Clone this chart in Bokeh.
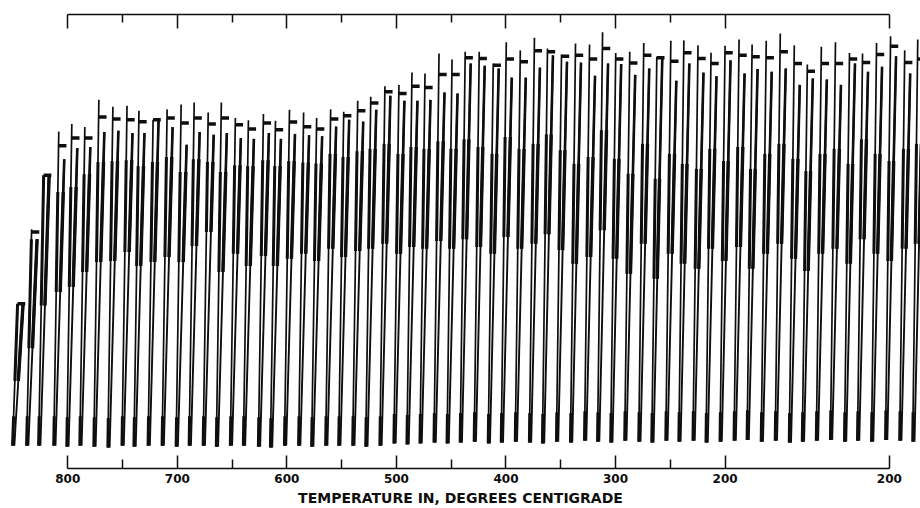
import numpy as np
from bokeh.plotting import figure
from bokeh.models import Range1d, LinearAxis, FixedTicker, ColumnDataSource
from bokeh.embed import file_html
from bokeh.resources import INLINE

# Position of each cycle's rising stroke, on the chart's temperature scale
cycle_temp = [845.8, 833.0, 822.0, 808.2, 796.3, 784.4, 771.6, 758.8, 745.9, 735.0,
              722.1, 709.3, 696.5, 684.6, 671.8, 659.8, 647.0, 635.1, 621.4, 610.4,
              597.6, 584.7, 572.8, 560.0, 548.1, 535.3, 523.4, 510.5, 497.7, 485.8,
              473.9, 461.1, 449.2, 437.2, 424.4, 411.6, 399.7, 386.9, 374.0, 362.1,
              349.3, 336.5, 323.7, 311.8, 299.8, 287.0, 274.2, 262.3, 249.5, 237.6,
              224.7, 212.8, 200.0, 187.2, 175.3, 162.4, 149.6, 136.8, 124.9, 112.1,
              99.2, 86.4, 74.5, 61.7, 48.9, 36.0, 24.1]
# Deflection (0 = base line, 100 = top line) of the peak of each rising stroke
peak = [36.3, 52.7, 64.6, 74.2, 75.9, 75.2, 81.2, 79.7, 79.9, 78.8,
        76.8, 79.1, 80.2, 80.6, 78.4, 80.6, 77.2, 76.7, 78.1, 76.6,
        79.0, 78.4, 77.2, 79.1, 78.6, 81.0, 81.9, 84.2, 84.5, 87.2,
        87.0, 91.4, 90.1, 91.8, 91.8, 89.2, 93.9, 92.1, 94.9, 92.5,
        91.2, 93.6, 93.4, 96.1, 91.5, 91.8, 93.7, 90.7, 94.2, 94.3,
        93.2, 91.6, 93.1, 94.5, 93.4, 94.2, 95.8, 93.2, 89.0, 92.9,
        93.9, 91.5, 91.4, 93.7, 95.2, 92.1, 94.5]
# Deflection of the flag mark
flag = [36.3, 52.1, 64.6, 71.1, 72.8, 72.8, 77.4, 77.0, 76.8, 76.4,
        76.8, 77.2, 76.1, 77.2, 75.9, 77.2, 75.7, 74.8, 76.1, 74.6,
        76.3, 75.3, 74.8, 77.0, 77.7, 78.8, 80.5, 83.0, 82.6, 84.2,
        83.9, 86.8, 86.8, 90.5, 90.3, 88.8, 90.2, 89.6, 92.0, 91.8,
        90.8, 91.0, 90.2, 92.5, 90.2, 89.3, 91.0, 90.5, 89.7, 91.6,
        90.3, 89.2, 91.6, 91.0, 90.7, 90.5, 91.8, 89.2, 87.5, 89.2,
        89.2, 90.2, 89.4, 91.2, 93.0, 89.4, 90.2]
# Deflection at the top of the falling stroke
fall_top = [36.3, 50.5, 64.6, 68.1, 70.6, 70.8, 74.1, 74.4, 73.9, 73.9,
            76.7, 75.2, 71.3, 74.1, 73.5, 73.9, 72.8, 72.6, 73.9, 72.6,
            73.7, 73.4, 73.2, 75.3, 76.8, 76.4, 79.0, 82.1, 81.0, 81.0,
            81.2, 82.8, 82.6, 89.2, 88.7, 88.1, 86.1, 86.1, 88.3, 91.0,
            89.6, 89.4, 86.5, 89.2, 89.1, 86.7, 88.1, 90.5, 85.4, 89.2,
            87.2, 86.4, 89.9, 87.0, 88.0, 87.4, 88.1, 84.5, 85.9, 85.7,
            84.5, 89.2, 87.4, 88.5, 90.8, 87.0, 89.2]
# Lower end of the dense (overlapping) part of each stroke pair
band_low = [19.3, 26.5, 35.9, 38.9, 40.0, 43.3, 45.5, 45.7, 47.7, 44.6,
            45.5, 46.6, 45.5, 49.0, 52.1, 43.3, 47.3, 44.6, 46.8, 44.6,
            46.2, 47.3, 45.7, 48.4, 46.6, 47.9, 48.4, 49.5, 47.3, 48.8,
            48.4, 50.1, 48.4, 50.5, 48.8, 47.3, 51.0, 48.4, 49.5, 51.6,
            48.1, 45.1, 46.6, 52.5, 46.2, 42.9, 49.5, 41.8, 47.3, 45.1,
            44.0, 48.4, 45.7, 48.8, 44.0, 47.3, 49.5, 46.2, 43.5, 47.3,
            48.4, 45.1, 50.5, 47.3, 45.7, 48.4, 49.5]
# Deflection at the bottom tip of each cycle
trough = [5.0, 5.0, 5.0, 5.0, 4.8, 5.0, 4.8, 4.6, 5.0, 4.8,
          5.0, 5.0, 4.8, 5.0, 5.0, 4.8, 5.0, 5.0, 4.8, 4.6,
          5.0, 5.0, 4.8, 5.0, 5.0, 5.0, 4.8, 5.0, 5.5, 5.3,
          5.5, 5.7, 5.5, 5.7, 5.9, 5.5, 5.7, 5.9, 5.7, 5.5,
          5.9, 5.7, 6.1, 5.9, 5.7, 6.1, 5.9, 5.7, 6.1, 5.9,
          6.1, 5.7, 5.9, 6.1, 6.3, 5.9, 6.1, 5.7, 5.9, 6.1,
          6.3, 5.9, 6.1, 5.9, 6.3, 6.1, 5.9]

major_ticks = [800, 700, 600, 500, 400, 300, 200, 50]
minor_ticks = [750, 650, 550, 450, 350, 250]
tick_labels = {800: "800", 700: "700", 600: "600", 500: "500",
               400: "400", 300: "300", 200: "200", 50: "200"}
axis_title = "TEMPERATURE IN, DEGREES CENTIGRADE"

INK = "#0e0e0e"
FONT = "DejaVu Sans"

T = np.array(cycle_temp)
pk = np.array(peak)
fl = np.array(flag)
ft = np.array(fall_top)
bl = np.array(band_low)
tr = np.array(trough)

# horizontal offsets (degrees on the scale) of the stroke geometry
tip_x = T + 4.6
fall_top_x = T - 5.0
fall_bot_x = T + 3.0
flag_end_x = T - 7.0


def rise_x(y):
    return tip_x + (T - tip_x) * (y - tr) / (pk - tr)


def fall_x(y):
    return fall_bot_x + (fall_top_x - fall_bot_x) * (y - tr) / (ft - tr)


band_top = np.minimum(ft - 6.0, bl + 22.0)
band_top = np.maximum(band_top, bl + 3.0)
band_top[:3] = ft[:3]

p = figure(width=920, height=508, x_range=Range1d(861.4, 21.6), y_range=Range1d(0, 100),
           output_backend="svg", toolbar_location=None,
           x_axis_location=None, y_axis_location=None,
           min_border_left=0, min_border_right=0, min_border_top=14, min_border_bottom=0)
p.outline_line_color = None
p.grid.visible = False
p.background_fill_color = "white"
p.border_fill_color = "white"

src = ColumnDataSource(dict(
    tip_x=tip_x, tr=tr, T=T, pk=pk, fl=fl, ft=ft,
    fall_top_x=fall_top_x, fall_bot_x=fall_bot_x, flag_end_x=flag_end_x,
    bt=band_top, bl=bl,
    rise_bt_x=rise_x(band_top), rise_bl_x=rise_x(bl),
    fall_bt_x=fall_x(band_top), fall_bl_x=fall_x(bl),
    spike_top=tr + 6.5, spike_x=rise_x(tr + 6.5),
))
# rising stroke
p.segment(x0="tip_x", y0="tr", x1="T", y1="pk", source=src, line_color=INK, line_width=1.7)
# falling stroke
p.segment(x0="fall_top_x", y0="ft", x1="fall_bot_x", y1="tr", source=src, line_color=INK, line_width=1.9)
# dense part of the strokes
p.segment(x0="rise_bt_x", y0="bt", x1="rise_bl_x", y1="bl", source=src, line_color=INK, line_width=3.0)
p.segment(x0="fall_top_x", y0="ft", x1="fall_bl_x", y1="bl", source=src, line_color=INK, line_width=2.6)
p.segment(x0="fall_bt_x", y0="bt", x1="fall_bl_x", y1="bl", source=src, line_color=INK, line_width=3.4)
# flag
p.segment(x0="T", y0="fl", x1="flag_end_x", y1="fl", source=src, line_color=INK, line_width=3.5)
# dark spike at the bottom tip
p.segment(x0="tip_x", y0="tr", x1="spike_x", y1="spike_top", source=src, line_color=INK, line_width=3.0)

top = LinearAxis(ticker=FixedTicker(ticks=major_ticks, minor_ticks=minor_ticks), bounds=(50, 800),
                 major_tick_in=14, major_tick_out=0, minor_tick_in=8, minor_tick_out=0,
                 major_label_text_font_size="0px", major_label_standoff=0,
                 axis_line_color=INK, axis_line_width=1.5,
                 major_tick_line_color=INK, major_tick_line_width=1.5,
                 minor_tick_line_color=INK, minor_tick_line_width=1.5)
top.major_label_overrides = {k: "" for k in major_ticks}
p.add_layout(top, "above")

bottom = LinearAxis(ticker=FixedTicker(ticks=major_ticks, minor_ticks=minor_ticks), bounds=(50, 800),
                    major_tick_in=13, major_tick_out=0, minor_tick_in=9, minor_tick_out=0,
                    axis_line_color=INK, axis_line_width=1.5,
                    major_tick_line_color=INK, major_tick_line_width=1.5,
                    minor_tick_line_color=INK, minor_tick_line_width=1.5,
                    major_label_standoff=5,
                    major_label_text_font=FONT, major_label_text_font_size="12px",
                    major_label_text_font_style="bold",
                    major_label_text_color=INK,
                    axis_label=axis_title, axis_label_standoff=4,
                    axis_label_text_font=FONT, axis_label_text_font_size="14px",
                    axis_label_text_font_style="bold", axis_label_text_color=INK)
bottom.major_label_overrides = tick_labels
p.add_layout(bottom, "below")

open("out.html", "w").write(file_html(p, INLINE))
